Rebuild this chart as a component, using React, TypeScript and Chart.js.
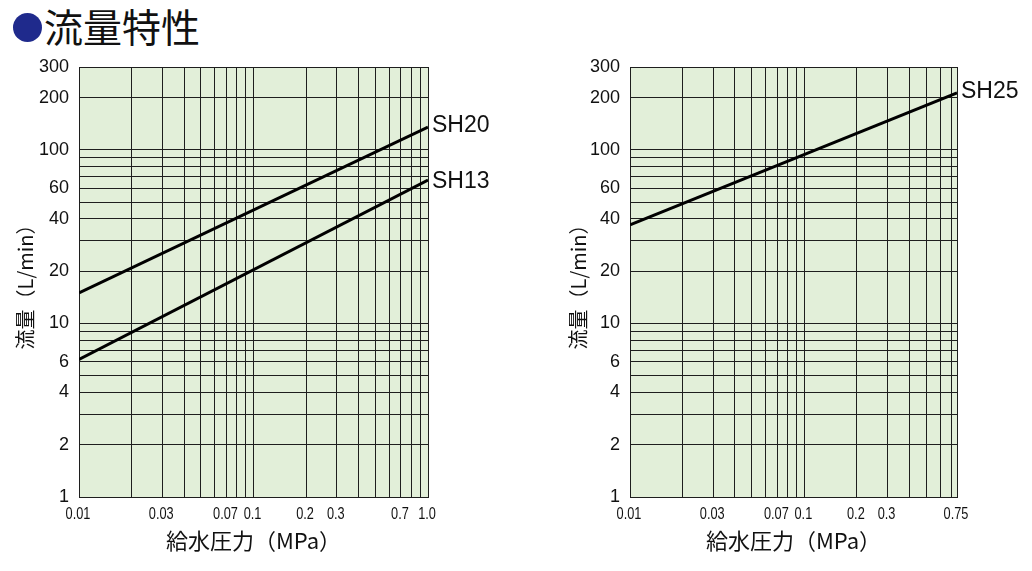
import React, { useEffect, useRef } from "react";
import { Chart, registerables } from "chart.js";

Chart.register(...registerables);

// ---- data ----
const yGrid = [1, 2, 3, 4, 5, 6, 7, 8, 9, 10, 20, 30, 40, 50, 60, 70, 80, 90, 100, 200, 300];
const yLabels = [1, 2, 4, 6, 10, 20, 40, 60, 100, 200, 300];

const xGridLeft = [0.01, 0.02, 0.03, 0.04, 0.05, 0.06, 0.07, 0.08, 0.09, 0.1, 0.2, 0.3, 0.4, 0.5, 0.6, 0.7, 0.8, 0.9, 1.0];
const xLabelsLeft = [0.01, 0.03, 0.07, 0.1, 0.2, 0.3, 0.7, 1.0];
const xGridRight = [0.01, 0.02, 0.03, 0.04, 0.05, 0.06, 0.07, 0.08, 0.09, 0.1, 0.2, 0.3, 0.4, 0.5, 0.6, 0.7, 0.75];
const xLabelsRight = [0.01, 0.03, 0.07, 0.1, 0.2, 0.3, 0.75];

const pressureLeft = [0.01, 1.0];
const flowSH20 = [15, 135];
const flowSH13 = [6.2, 67];

const pressureRight = [0.01, 0.75];
const flowSH25 = [37, 213];

const titleText = "流量特性";
const xTitle = "給水圧力（MPa）";
const yTitle = "流量（L/min）";

// ---- styles ----
const GRID = "#1e1e1e";
const BG = "#e2efd9";
const CJK = "'Noto Sans CJK JP', 'Noto Sans', sans-serif";
const SANS = "'Liberation Sans', Arial, sans-serif";

const near = (a: number, b: number) => Math.abs(a - b) < 1e-9;
const fmtX = (v: number) => (near(v, 1) ? "1.0" : String(v));

type Series = { label: string; x: number[]; y: number[]; dy: number };

const bgPlugin = {
  id: "bgFill",
  beforeDraw(chart: any) {
    const { ctx, chartArea } = chart;
    ctx.save();
    ctx.fillStyle = BG;
    ctx.fillRect(chartArea.left, chartArea.top, chartArea.right - chartArea.left, chartArea.bottom - chartArea.top);
    ctx.restore();
  },
};

const endLabelPlugin = {
  id: "endLabels",
  afterDatasetsDraw(chart: any) {
    const { ctx } = chart;
    ctx.save();
    ctx.font = `23px ${SANS}`;
    ctx.fillStyle = "#111";
    ctx.textAlign = "left";
    ctx.textBaseline = "middle";
    chart.data.datasets.forEach((ds: any, i: number) => {
      const meta = chart.getDatasetMeta(i);
      const pt = meta.data[meta.data.length - 1];
      if (!pt) return;
      ctx.fillText(ds.label, pt.x + 4, pt.y + (ds.dy || 0));
    });
    ctx.restore();
  },
};

// condensed x tick labels (the reference uses a narrow face)
const xLabelPlugin = {
  id: "xNarrowLabels",
  afterDraw(chart: any, _args: any, opts: any) {
    const scale = chart.scales.x;
    const { ctx } = chart;
    const labels: number[] = opts.labels || [];
    ctx.save();
    ctx.font = `17px ${SANS}`;
    ctx.fillStyle = "#111";
    ctx.textAlign = "center";
    ctx.textBaseline = "middle";
    const sx = 0.75;
    const y = scale.top + 17;
    labels.forEach((v) => {
      const px = scale.getPixelForValue(v) - 1;
      ctx.save();
      ctx.translate(px, y);
      ctx.scale(sx, 1);
      ctx.fillText(fmtX(v), 0, 0);
      ctx.restore();
    });
    ctx.restore();
  },
};

function LogChart(props: {
  left: number;
  width: number;
  plotRight: number;
  xMax: number;
  xGrid: number[];
  xLabels: number[];
  series: Series[];
  yTitlePad: number;
}) {
  const ref = useRef<HTMLCanvasElement | null>(null);
  useEffect(() => {
    if (!ref.current) return;
    const chart = new Chart(ref.current, {
      type: "line",
      data: {
        datasets: props.series.map((s) => ({
          label: s.label,
          dy: s.dy,
          data: s.x.map((x, i) => ({ x, y: s.y[i] })),
          borderColor: "#000",
          borderWidth: 3,
          pointRadius: 0,
          fill: false,
          tension: 0,
        })) as any,
      },
      options: {
        animation: false,
        responsive: false,
        layout: { padding: { top: 67, right: props.width - props.plotRight, bottom: 0, left: 0 } },
        plugins: {
          legend: { display: false },
          tooltip: { enabled: false },
          xNarrowLabels: { labels: props.xLabels },
        } as any,
        scales: {
          x: {
            type: "logarithmic",
            min: 0.01,
            max: props.xMax,
            afterFit: (s: any) => {
              s.height = 74;
            },
            afterBuildTicks: (s: any) => {
              s.ticks = props.xGrid.map((v) => ({ value: v }));
            },
            grid: { color: GRID, lineWidth: 1, drawTicks: false },
            border: { color: GRID, width: 1 },
            ticks: {
              autoSkip: false,
              maxRotation: 0,
              minRotation: 0,
              padding: 10,
              color: "#111",
              font: { family: SANS, size: 15 },
              callback: () => "",
            },
            title: {
              display: true,
              text: xTitle,
              color: "#111",
              font: { family: CJK, size: 22 },
              padding: { top: 0, bottom: 17 },
            },
          } as any,
          y: {
            type: "logarithmic",
            min: 1,
            max: 300,
            afterFit: (s: any) => {
              s.width = 79;
            },
            afterBuildTicks: (s: any) => {
              s.ticks = yGrid.map((v) => ({ value: v }));
            },
            grid: { color: GRID, lineWidth: 1, drawTicks: false },
            border: { color: GRID, width: 1 },
            ticks: {
              autoSkip: false,
              padding: 10,
              color: "#111",
              font: { family: SANS, size: 18 },
              callback: (v: any) => (yLabels.some((l) => near(l, Number(v))) ? String(v) : ""),
            },
            title: {
              display: true,
              text: yTitle,
              color: "#111",
              font: { family: CJK, size: 20 },
              padding: { top: props.yTitlePad, bottom: 0 },
            },
          } as any,
        },
      },
      plugins: [bgPlugin, endLabelPlugin, xLabelPlugin],
    });
    return () => chart.destroy();
  }, []);
  return (
    <canvas
      ref={ref}
      width={props.width}
      height={571}
      style={{ position: "absolute", left: props.left, top: 0, width: props.width, height: 571 }}
    />
  );
}

export default function App() {
  return (
    <div style={{ position: "absolute", left: 0, top: 0, width: 1032, height: 571, background: "#fff", overflow: "hidden" }}>
      <div
        style={{
          position: "absolute",
          left: 13,
          top: 13,
          width: 29,
          height: 29,
          borderRadius: "50%",
          background: "#1f2a8c",
        }}
      />
      <div
        style={{
          position: "absolute",
          left: 44,
          top: 4,
          fontFamily: CJK,
          fontSize: 39,
          lineHeight: "42px",
          color: "#111",
          whiteSpace: "nowrap",
        }}
      >
        {titleText}
      </div>
      <LogChart
        left={0}
        width={520}
        plotRight={428}
        xMax={1.0}
        xGrid={xGridLeft}
        xLabels={xLabelsLeft}
        yTitlePad={13}
        series={[
          { label: "SH20", x: pressureLeft, y: flowSH20, dy: -2 },
          { label: "SH13", x: pressureLeft, y: flowSH13, dy: 2 },
        ]}
      />
      <LogChart
        left={551}
        width={481}
        plotRight={406}
        xMax={0.75}
        xGrid={xGridRight}
        xLabels={xLabelsRight}
        yTitlePad={15}
        series={[{ label: "SH25", x: pressureRight, y: flowSH25, dy: -1 }]}
      />
    </div>
  );
}
